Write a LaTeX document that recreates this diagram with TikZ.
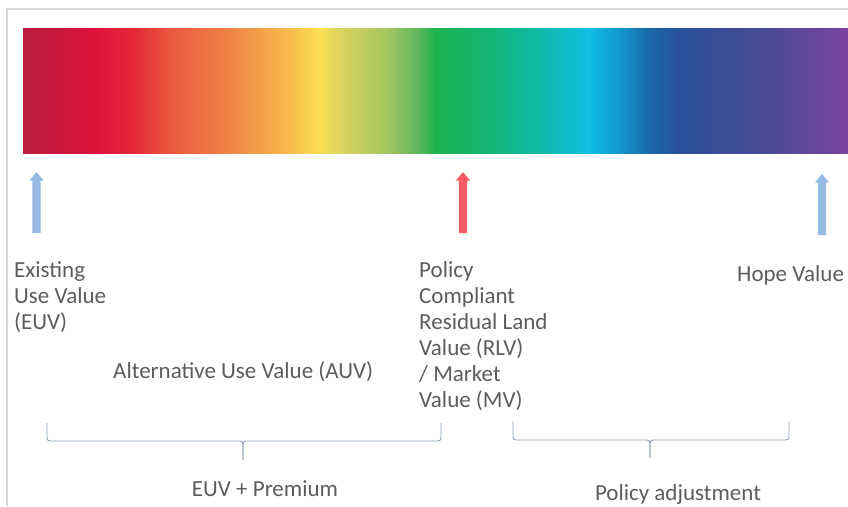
\documentclass[tikz,border=0pt]{standalone}
\usepackage{fontspec}
\setmainfont{Carlito}
\usetikzlibrary{shapes.arrows}

\definecolor{frameGray}{RGB}{218,218,218}
\definecolor{labelGray}{RGB}{92,92,92}
\definecolor{euvBlue}{RGB}{150,186,226}
\definecolor{rlvRed}{RGB}{246,92,98}
\definecolor{braceGray}{RGB}{140,158,182}

% Spectrum stops, red end to violet end
\definecolor{specA}{RGB}{186,28,62}
\definecolor{specB}{RGB}{196,25,60}
\definecolor{specC}{RGB}{222,18,58}
\definecolor{specD}{RGB}{228,42,56}
\definecolor{specE}{RGB}{234,88,62}
\definecolor{specF}{RGB}{240,132,70}
\definecolor{specG}{RGB}{247,178,74}
\definecolor{specH}{RGB}{250,222,82}
\definecolor{specI}{RGB}{215,210,95}
\definecolor{specJ}{RGB}{165,198,95}
\definecolor{specK}{RGB}{100,184,95}
\definecolor{specL}{RGB}{30,180,80}
\definecolor{specM}{RGB}{20,182,118}
\definecolor{specN}{RGB}{15,186,170}
\definecolor{specO}{RGB}{15,190,228}
\definecolor{specP}{RGB}{18,150,205}
\definecolor{specQ}{RGB}{25,105,170}
\definecolor{specR}{RGB}{42,80,155}
\definecolor{specS}{RGB}{72,75,150}
\definecolor{specT}{RGB}{105,70,155}
\definecolor{specU}{RGB}{125,65,160}

% the path's box is mapped onto 25bp--75bp
\pgfdeclarehorizontalshading{spectrum}{100bp}{%
  color(0bp)=(specA); color(25bp)=(specA); color(26.6bp)=(specB);
  color(29.4bp)=(specC); color(31.8bp)=(specD); color(33.9bp)=(specE);
  color(37.5bp)=(specF); color(40.6bp)=(specG); color(42.9bp)=(specH);
  color(44.5bp)=(specI); color(47bp)=(specJ); color(48.8bp)=(specK);
  color(50bp)=(specL); color(53.3bp)=(specM); color(56.4bp)=(specN);
  color(59.3bp)=(specO); color(61.2bp)=(specP); color(62.9bp)=(specQ);
  color(64.8bp)=(specR); color(69.7bp)=(specS); color(73.3bp)=(specT);
  color(75bp)=(specU); color(100bp)=(specU)}

\tikzset{
  valueLabel/.style={text=labelGray, inner sep=0pt, align=left,
    font=\fontsize{23}{26}\selectfont},
  valueArrow/.style={single arrow, rotate=90, inner xsep=0pt, inner ysep=4pt,
    minimum height=61pt, single arrow head extend=3pt,
    single arrow tip angle=80, draw=none},
  valueBrace/.style={braceGray, line width=0.9pt, rounded corners=3pt}
}

\begin{document}
\begin{tikzpicture}[x=1pt, y=-1pt]
% Parameters
\def\barLeft{23}
\def\barRight{848}
\def\barTop{28}
\def\barBottom{153}

\useasboundingbox (0,0) rectangle (848,506);

% Frame
\draw[frameGray, line width=1.2pt] (7,506) -- (7,9) -- (848,9);

% Spectrum bar
\fill[shading=spectrum] (\barLeft,\barTop) rectangle (\barRight,\barBottom);

% Value arrows
\node[valueArrow, fill=euvBlue] (euvArrow) at (36.5,205) {};
\node[valueArrow, fill=rlvRed] (rlvArrow) at (463,205) {};
\node[valueArrow, fill=euvBlue] (hopeArrow) at (822,207) {};

% Labels under the arrows
\node[valueLabel, anchor=north west] (euvLabel) at (14,261) {Existing\\Use Value\\(EUV)};
\node[valueLabel, anchor=north west] (rlvLabel) at (419,261) {Policy\\Compliant\\Residual Land\\Value (RLV)\\/ Market\\Value (MV)};
\node[valueLabel, anchor=north west] (hopeLabel) at (737,265) {Hope Value};
\node[valueLabel, anchor=base west] (auvLabel) at (113,378) {Alternative Use Value (AUV)};

% Braces
\draw[valueBrace] (47,423) -- (47,441) -- (243,441) -- (243,460);
\draw[valueBrace] (441,423) -- (441,441) -- (243,441) -- (243,460);
\draw[valueBrace] (513,421) -- (513,440) -- (650,440) -- (650,458);
\draw[valueBrace] (789,421) -- (789,440) -- (650,440) -- (650,458);

\node[valueLabel, anchor=base] (premiumLabel) at (265,496) {EUV + Premium};
\node[valueLabel, anchor=base] (policyLabel) at (678,500) {Policy adjustment};

\end{tikzpicture}
\end{document}
